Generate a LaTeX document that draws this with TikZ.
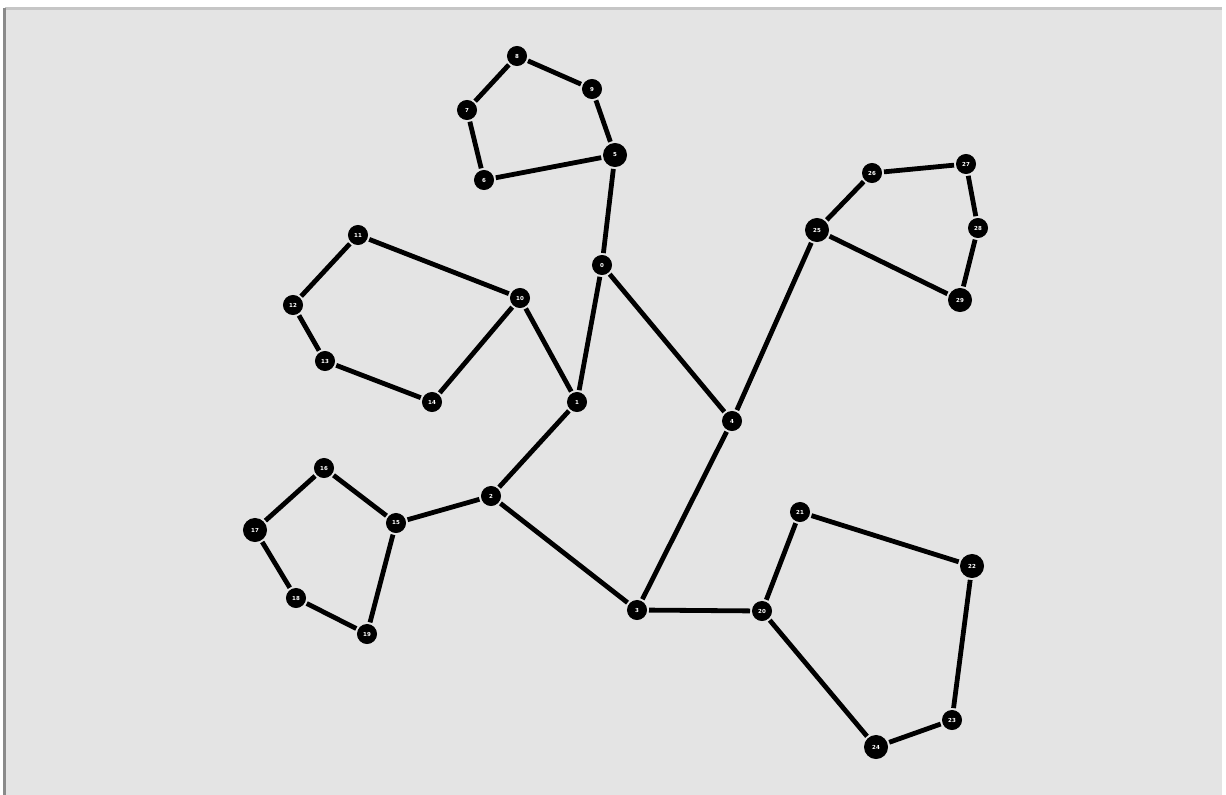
\documentclass[tikz,border=0pt]{standalone}
\usepackage{fontspec}
\setmainfont{DejaVu Sans}
\definecolor{bggray}{HTML}{E4E4E4}
\definecolor{topline}{HTML}{C6C6C6}
\definecolor{leftline}{HTML}{8A8A8A}
\begin{document}
\begin{tikzpicture}[x=1pt,y=-1pt,
  nd/.style={circle,fill=black,draw=black,line width=1pt,inner sep=0pt,minimum size=19pt,text=white,font=\fontsize{5.5}{5.5}\selectfont\bfseries},
  big/.style={nd,minimum size=23pt},
  ed/.style={line width=4.8pt,black,shorten >=2pt,shorten <=2pt}]
\useasboundingbox (0,0) rectangle (1226,795);
\fill[white] (0,0) rectangle (1226,795);
\fill[bggray] (5,8) rectangle (1222,795);
\fill[topline] (5,7) rectangle (1222,10);
\fill[leftline] (3,8) rectangle (6,795);
% top pentagon
\node[nd] (a1) at (517,56) {8};
\node[nd] (a2) at (592,89) {9};
\node[nd] (a3) at (467,110) {7};
\node[big] (a4) at (615,155) {5};
\node[nd] (a5) at (484,180) {6};
% center
\node[nd] (b0) at (602,265) {0};
\node[nd] (b1) at (577,402) {1};
\node[nd] (b4) at (732,421) {4};
% left pentagon
\node[nd] (c1) at (358,235) {11};
\node[nd] (c2) at (293,305) {12};
\node[nd] (c3) at (325,361) {13};
\node[nd] (c4) at (432,402) {14};
\node[nd] (c0) at (520,298) {10};
% lower-left pentagon
\node[nd] (d0) at (491,496) {2};
\node[nd] (d1) at (324,468) {16};
\node[big] (d2) at (255,530) {17};
\node[nd] (d3) at (296,598) {18};
\node[nd] (d4) at (367,634) {19};
\node[nd] (d5) at (396,523) {15};
% right pentagon
\node[big] (e0) at (817,230) {25};
\node[nd] (e1) at (872,173) {26};
\node[nd] (e2) at (966,164) {27};
\node[nd] (e3) at (978,228) {28};
\node[big] (e4) at (960,300) {29};
% bottom-right pentagon
\node[nd] (f0) at (637,610) {3};
\node[nd] (f1) at (762,611) {20};
\node[nd] (f2) at (800,512) {21};
\node[big] (f3) at (972,566) {22};
\node[nd] (f4) at (952,720) {23};
\node[big] (f5) at (876,747) {24};
% edges
\draw[ed] (a1) -- (a2);
\draw[ed] (a1) -- (a3);
\draw[ed] (a2) -- (a4);
\draw[ed] (a3) -- (a5);
\draw[ed] (a5) -- (a4);
\draw[ed] (a4) -- (b0);
\draw[ed] (b0) -- (b1);
\draw[ed] (b0) -- (b4);
\draw[ed] (c1) -- (c0);
\draw[ed] (c1) -- (c2);
\draw[ed] (c2) -- (c3);
\draw[ed] (c3) -- (c4);
\draw[ed] (c4) -- (c0);
\draw[ed] (c0) -- (b1);
\draw[ed] (b1) -- (d0);
\draw[ed] (d0) -- (d5);
\draw[ed] (d5) -- (d1);
\draw[ed] (d1) -- (d2);
\draw[ed] (d2) -- (d3);
\draw[ed] (d3) -- (d4);
\draw[ed] (d4) -- (d5);
\draw[ed] (d0) -- (f0);
\draw[ed] (f0) -- (b4);
\draw[ed] (b4) -- (e0);
\draw[ed] (e0) -- (e1);
\draw[ed] (e1) -- (e2);
\draw[ed] (e2) -- (e3);
\draw[ed] (e3) -- (e4);
\draw[ed] (e4) -- (e0);
\draw[ed] (f0) -- (f1);
\draw[ed] (f1) -- (f2);
\draw[ed] (f2) -- (f3);
\draw[ed] (f3) -- (f4);
\draw[ed] (f4) -- (f5);
\draw[ed] (f5) -- (f1);
\end{tikzpicture}
\end{document}
